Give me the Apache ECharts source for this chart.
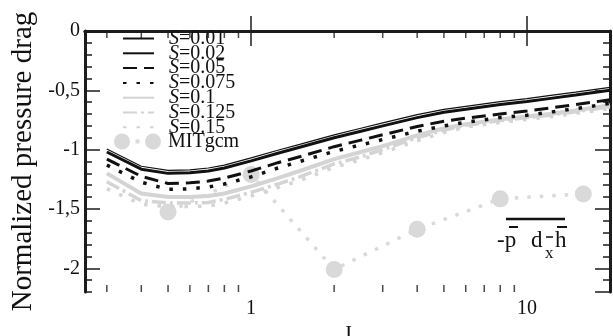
<!DOCTYPE html>
<html>
<head>
<meta charset="utf-8">
<script src="https://cdn.jsdelivr.net/npm/echarts@6/dist/echarts.min.js"></script>
<style>html,body{margin:0;padding:0;background:#fff}#c{width:613px;height:336px}</style>
</head>
<body>
<div id="c"></div>
<script>
// ---- data ----
const J = [0.3, 0.4, 0.5, 0.6, 0.7, 0.8, 1, 1.25, 1.5, 2, 2.5, 3, 4, 5, 6, 8, 10, 12, 15, 20];
const S001  = [-0.995,-1.14,-1.175,-1.17,-1.155,-1.13,-1.07,-1.005,-0.955,-0.875,-0.82,-0.775,-0.705,-0.66,-0.635,-0.595,-0.57,-0.545,-0.515,-0.475];
const S002  = [-1.02,-1.165,-1.20,-1.195,-1.18,-1.155,-1.095,-1.03,-0.98,-0.90,-0.845,-0.80,-0.73,-0.685,-0.66,-0.62,-0.595,-0.57,-0.54,-0.50];
const S005  = [-1.08,-1.225,-1.285,-1.28,-1.265,-1.24,-1.18,-1.11,-1.06,-0.975,-0.92,-0.875,-0.805,-0.76,-0.735,-0.70,-0.675,-0.65,-0.62,-0.58];
const S0075 = [-1.13,-1.275,-1.335,-1.33,-1.315,-1.29,-1.23,-1.155,-1.10,-1.015,-0.96,-0.915,-0.845,-0.80,-0.77,-0.73,-0.71,-0.685,-0.655,-0.61];
const S01   = [-1.20,-1.37,-1.40,-1.40,-1.39,-1.37,-1.31,-1.24,-1.18,-1.08,-1.02,-0.97,-0.88,-0.82,-0.785,-0.745,-0.72,-0.70,-0.67,-0.625];
const S0125 = [-1.27,-1.43,-1.45,-1.45,-1.445,-1.42,-1.36,-1.29,-1.23,-1.12,-1.06,-1.00,-0.90,-0.835,-0.795,-0.755,-0.73,-0.71,-0.68,-0.64];
const S015  = [-1.33,-1.46,-1.48,-1.48,-1.475,-1.45,-1.39,-1.32,-1.26,-1.15,-1.085,-1.025,-0.925,-0.855,-0.81,-0.77,-0.745,-0.725,-0.695,-0.655];
const mitJ  = [0.5, 1, 2, 4, 8, 16];
const mitV  = [-1.525, -1.21, -2.01, -1.672, -1.415, -1.373];
const xMinorTicks = [0.3,0.4,0.5,0.6,0.7,0.8,0.9,2,3,4,5,6,7,8,9];
const seriesNames = ['S=0.01','S=0.02','S=0.05','S=0.075','S=0.1','S=0.125','S=0.15'];
const X_MIN = 0.25, X_MAX = 20, Y_MIN = -2.2, Y_MAX = 0;

const FONT = "'Liberation Serif','Times New Roman',serif";
const BLACK = '#111', GRAY = '#d4d4d4', AX = '#1c1c1c';
const pair = (xs, ys) => xs.map((x, i) => [x, ys[i]]);

const lineDefs = [
  [S001, BLACK, 1.2, 'solid'],
  [S002, BLACK, 3, 'solid'],
  [S005, BLACK, 3, [14, 7]],
  [S0075, BLACK, 3.5, [3.5, 10]],
  [S01, GRAY, 4, 'solid'],
  [S0125, GRAY, 3.5, [14, 4, 3, 4]],
  [S015, GRAY, 3.5, [3.5, 10]]
];

const series = lineDefs.map((d, i) => ({
  name: seriesNames[i], type: 'line', data: pair(J, d[0]), symbol: 'none', smooth: false,
  lineStyle: { color: d[1], width: d[2], type: d[3], cap: 'butt' },
  itemStyle: { color: d[1] }, z: 10 - i, xAxisIndex: 0, yAxisIndex: 0
}));
series.push({
  name: 'MITgcm', type: 'line', data: pair(mitJ, mitV), symbol: 'circle', symbolSize: 17,
  itemStyle: { color: '#d9d9d9' },
  lineStyle: { color: '#dadada', width: 3.5, type: [3.5, 9], cap: 'butt' }, z: 1
});
series.push({
  type: 'scatter', data: xMinorTicks.map(v => [v, Y_MIN]), symbol: 'rect', symbolSize: [1.5, 7],
  symbolOffset: [0, -3.5], itemStyle: { color: AX }, clip: false, silent: true, z: 20
});
series.push({
  type: 'scatter', data: xMinorTicks.map(v => [v, Y_MAX]), symbol: 'rect', symbolSize: [1.5, 7],
  symbolOffset: [0, 3.5], itemStyle: { color: AX }, clip: false, silent: true, z: 20
});

const axLine = { show: true, lineStyle: { color: AX, width: 3 } };
const commaFmt = v => String(Math.round(v * 10) / 10).replace('.', ',');

const option = {
  animation: false,
  grid: { left: 85, right: 3, top: 31, bottom: 44, outerBoundsMode: 'none', containLabel: false },
  xAxis: [
    { type: 'log', logBase: 10, min: X_MIN, max: X_MAX, position: 'bottom',
      name: 'J', nameLocation: 'middle', nameGap: 27,
      nameTextStyle: { fontFamily: FONT, fontSize: 21, color: '#111' },
      axisLine: axLine, axisTick: { inside: true, length: 15, lineStyle: { color: AX, width: 1.5 } },
      axisLabel: { fontFamily: FONT, fontSize: 20, color: '#111', margin: 7, showMinLabel: false, showMaxLabel: false },
      splitLine: { show: false } },
    { type: 'log', logBase: 10, min: X_MIN, max: X_MAX, position: 'top',
      axisLine: axLine, axisTick: { inside: true, length: 15, lineStyle: { color: AX, width: 1.5 } },
      axisLabel: { show: false }, splitLine: { show: false } }
  ],
  yAxis: [
    { type: 'value', min: Y_MIN, max: Y_MAX, position: 'left',
      name: 'Normalized pressure drag', nameLocation: 'middle', nameGap: 45,
      nameTextStyle: { fontFamily: FONT, fontSize: 29, color: '#111' },
      axisLine: axLine, axisTick: { inside: true, length: 15, lineStyle: { color: AX, width: 1.5 } },
      axisLabel: { fontFamily: FONT, fontSize: 20, color: '#111', margin: 5, showMinLabel: false, formatter: commaFmt },
      splitLine: { show: false } },
    { type: 'value', min: Y_MIN, max: Y_MAX, interval: 0.1, position: 'left',
      axisLine: { show: false }, axisTick: { inside: true, length: 7, lineStyle: { color: AX, width: 1.5 } },
      axisLabel: { show: false }, splitLine: { show: false } },
    { type: 'value', min: Y_MIN, max: Y_MAX, position: 'right',
      axisLine: axLine, axisTick: { inside: true, length: 15, lineStyle: { color: AX, width: 1.5 } },
      axisLabel: { show: false }, splitLine: { show: false } },
    { type: 'value', min: Y_MIN, max: Y_MAX, interval: 0.1, position: 'right',
      axisLine: { show: false }, axisTick: { inside: true, length: 7, lineStyle: { color: AX, width: 1.5 } },
      axisLabel: { show: false }, splitLine: { show: false } }
  ],
  legend: [
    { data: seriesNames, orient: 'vertical', left: 122, top: 28.5, padding: 0, itemGap: -5.2,
      itemWidth: 31, itemHeight: 14, selectedMode: false,
      itemStyle: { opacity: 0 },
      formatter: n => '{i|S}{n|' + n.slice(1) + '}',
      textStyle: { padding: [0, 0, 0, 10], lineHeight: 14.5, fontSize: 20, fontFamily: FONT, color: '#111',
        rich: { i: { fontStyle: 'italic', fontSize: 20, lineHeight: 14.5, fontFamily: FONT, color: '#111' },
                n: { fontSize: 20, lineHeight: 14.5, fontFamily: FONT, color: '#111' } } } },
    { data: [{ name: 'MITgcm', icon: 'path://M0,8a8,8 0 1,0 16,0a8,8 0 1,0 -16,0ZM31,8a8,8 0 1,0 16,0a8,8 0 1,0 -16,0ZM21.5,6h4v4h-4Z' }],
      orient: 'vertical', left: 114, top: 131.5, padding: 0, itemWidth: 47, itemHeight: 16, selectedMode: false,
      itemStyle: { color: '#d9d9d9', borderWidth: 0 },
      textStyle: { padding: [0, 0, 0, 2], lineHeight: 16, fontSize: 20, fontFamily: FONT, color: '#111' } }
  ],
  graphic: [
    { type: 'text', left: 497, top: 229, style: { text: '-p', font: "23px 'Liberation Serif'", fill: '#111' } },
    { type: 'text', left: 531, top: 229, style: { text: 'd', font: "23px 'Liberation Serif'", fill: '#111' } },
    { type: 'text', left: 545, top: 245, style: { text: 'x', font: "17px 'Liberation Serif'", fill: '#111' } },
    { type: 'text', left: 555, top: 229, style: { text: 'h', font: "23px 'Liberation Serif'", fill: '#111' } },
    { type: 'line', shape: { x1: 506, y1: 219, x2: 565, y2: 219 }, style: { stroke: '#111', lineWidth: 2.5 } },
    { type: 'line', shape: { x1: 509, y1: 227, x2: 518, y2: 227 }, style: { stroke: '#111', lineWidth: 2 } },
    { type: 'line', shape: { x1: 557, y1: 227, x2: 567, y2: 227 }, style: { stroke: '#111', lineWidth: 2 } },
    { type: 'line', shape: { x1: 546, y1: 237, x2: 553, y2: 237 }, style: { stroke: '#111', lineWidth: 1.5 } }
  ],
  series: series
};
const chart = echarts.init(document.getElementById('c'), null, { renderer: 'canvas' });
chart.setOption(option);
</script>
</body>
</html>
